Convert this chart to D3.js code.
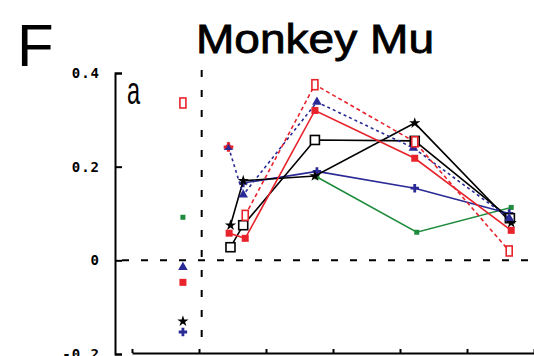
<!DOCTYPE html>
<html>
<head>
<meta charset="utf-8">
<script src="https://cdn.jsdelivr.net/npm/d3@7"></script>
<style>
  body { margin: 0; background: #fff; }
  svg { display: block; }
</style>
</head>
<body>
<svg width="534" height="356"></svg>
<script>
// data
var xTicks = [0, 1, 2, 3, 4, 5, 6];
var yTicks = [-0.2, 0, 0.2, 0.4];
var yTickLabels = ["-0.2", "0", "0.2", "0.4"];
var preX = 0.76;    // isolated baseline points
var stimX = 1.04;   // dashed vertical line

var redSolid    = [[1.45, 0.058], [1.69, 0.047], [2.73, 0.32], [4.22, 0.218], [5.66, 0.064]];
var redDashed   = [[1.69, 0.096], [2.73, 0.375], [4.22, 0.253], [5.63, 0.02]];
var blueDashed  = [[1.44, 0.242], [1.66, 0.14], [2.76, 0.338], [4.2, 0.24], [5.63, 0.09]];
var blueSolid   = [[1.66, 0.165], [2.76, 0.19], [4.22, 0.154], [5.63, 0.10]];
var greenSolid  = [[2.76, 0.178], [4.25, 0.06], [5.66, 0.113]];
var blackFilled = [[1.47, 0.075], [1.66, 0.17], [2.73, 0.18], [4.22, 0.293], [5.66, 0.08]];
var blackOpen   = [[1.47, 0.028], [1.66, 0.075], [2.73, 0.257], [4.22, 0.255], [5.64, 0.09]];

var preNames  = ["redDashed", "greenSolid", "blueDashed", "redSolid", "blackFilled", "blueSolid"];
var preValues = [0.336, 0.092, -0.015, -0.047, -0.13, -0.153];

var RED = "#e8232c", BLUE = "#2a2a96", GREEN = "#1e8c3c", BLACK = "#000";

var series = [
  { name: "greenSolid",  pts: greenSolid,  color: GREEN, dash: null,  marker: "sq",     size: 5 },
  { name: "blueSolid",   pts: blueSolid,   color: BLUE,  dash: null,  marker: "cross",  size: 7 },
  { name: "blackOpen",   pts: blackOpen,   color: BLACK, dash: null,  marker: "open",   size: 9 },
  { name: "blackFilled", pts: blackFilled, color: BLACK, dash: null,  marker: "star",   size: 7 },
  { name: "blueDashed",  pts: blueDashed,  color: BLUE,  dash: "3,3", marker: "tri",    size: 7 },
  { name: "redDashed",   pts: redDashed,   color: RED,   dash: "4,3", marker: "tall",   size: 8 },
  { name: "redSolid",    pts: redSolid,    color: RED,   dash: null,  marker: "sq",     size: 7 }
];

var svg = d3.select("svg");

var x = d3.scaleLinear().domain([0, 6]).range([132, 534]);
var y = d3.scaleLinear().domain([-0.2, 0.4]).range([354, 73]);

// titles
svg.append("text").attr("x", 17).attr("y", 66)
  .style("font-family", "Liberation Sans, Arial, sans-serif").style("font-size", "60px")
  .text("F");
svg.append("text").attr("x", 196).attr("y", 53)
  .attr("textLength", 238).attr("lengthAdjust", "spacingAndGlyphs")
  .style("font-family", "Liberation Sans, Arial, sans-serif").style("font-size", "40px")
  .style("stroke", "#000").style("stroke-width", 0.8)
  .text("Monkey Mu");
svg.append("text").attr("transform", "translate(127,104) scale(0.62,1)")
  .style("font-family", "Liberation Sans, Arial, sans-serif").style("font-size", "38px")
  .text("a");

// reference dashed lines
svg.append("line")
  .attr("x1", 122).attr("x2", 534).attr("y1", y(0)).attr("y2", y(0))
  .attr("stroke", "#000").attr("stroke-width", 2).attr("stroke-dasharray", "7,12");
svg.append("line")
  .attr("x1", x(stimX)).attr("x2", x(stimX)).attr("y1", 70).attr("y2", 342)
  .attr("stroke", "#000").attr("stroke-width", 2).attr("stroke-dasharray", "7,13");

// axes
svg.append("g").attr("transform", "translate(115,0)")
  .call(d3.axisRight(y).tickValues(yTicks).tickSize(7).tickFormat(""));
svg.append("g").attr("transform", "translate(0,353)")
  .call(d3.axisTop(x).tickValues(xTicks).tickSizeInner(4).tickSizeOuter(0).tickFormat(""));
svg.selectAll(".domain, .tick line").attr("stroke", "#000").attr("stroke-width", 2);

svg.selectAll(".ylab").data(yTicks).enter().append("text")
  .attr("class", "ylab")
  .attr("x", 100).attr("y", function(d) { return y(d) + 5; })
  .attr("text-anchor", "end")
  .style("font-family", "DejaVu Sans Mono, monospace").style("font-size", "14px")
  .style("font-weight", "bold").style("letter-spacing", "1px")
  .text(function(d, i) { return yTickLabels[i]; });

// marker drawing
function drawMarker(g, type, cx, cy, s, color) {
  if (type == "sq") {
    g.append("rect").attr("x", cx - s / 2).attr("y", cy - s / 2).attr("width", s).attr("height", s)
      .attr("fill", color);
  } else if (type == "open") {
    g.append("rect").attr("x", cx - s / 2).attr("y", cy - s / 2).attr("width", s).attr("height", s)
      .attr("fill", "#fff").attr("stroke", color).attr("stroke-width", 1.6);
  } else if (type == "tall") {
    g.append("rect").attr("x", cx - s / 2 + 1).attr("y", cy - s / 2 - 1).attr("width", s - 2).attr("height", s + 2)
      .attr("fill", "#fff").attr("stroke", color).attr("stroke-width", 1.6);
  } else {
    var sym = type == "star" ? d3.symbolStar : type == "tri" ? d3.symbolTriangle : d3.symbolCross;
    g.append("path").attr("transform", "translate(" + cx + "," + cy + ")")
      .attr("d", d3.symbol().type(sym).size(s * s * 0.8)())
      .attr("fill", color);
  }
}

var line = d3.line().x(function(d) { return x(d[0]); }).y(function(d) { return y(d[1]); });

series.forEach(function(s) {
  var g = svg.append("g");
  g.append("path").datum(s.pts)
    .attr("d", line).attr("fill", "none")
    .attr("stroke", s.color).attr("stroke-width", 1.6)
    .attr("stroke-dasharray", s.dash);
  s.pts.forEach(function(p) { drawMarker(g, s.marker, x(p[0]), y(p[1]), s.size, s.color); });
});

// red marker sitting on the first blue dashed point
drawMarker(svg.append("g"), "cross", x(blueDashed[0][0]), y(blueDashed[0][1]), 8, RED);
drawMarker(svg.append("g"), "tri", x(blueDashed[0][0]), y(blueDashed[0][1]) + 1, 5, BLUE);

// baseline points left of the stimulus line
preNames.forEach(function(n, i) {
  var s = series.filter(function(d) { return d.name == n; })[0];
  drawMarker(svg.append("g"), s.marker, x(preX), y(preValues[i]), s.size, s.color);
});
</script>
</body>
</html>
